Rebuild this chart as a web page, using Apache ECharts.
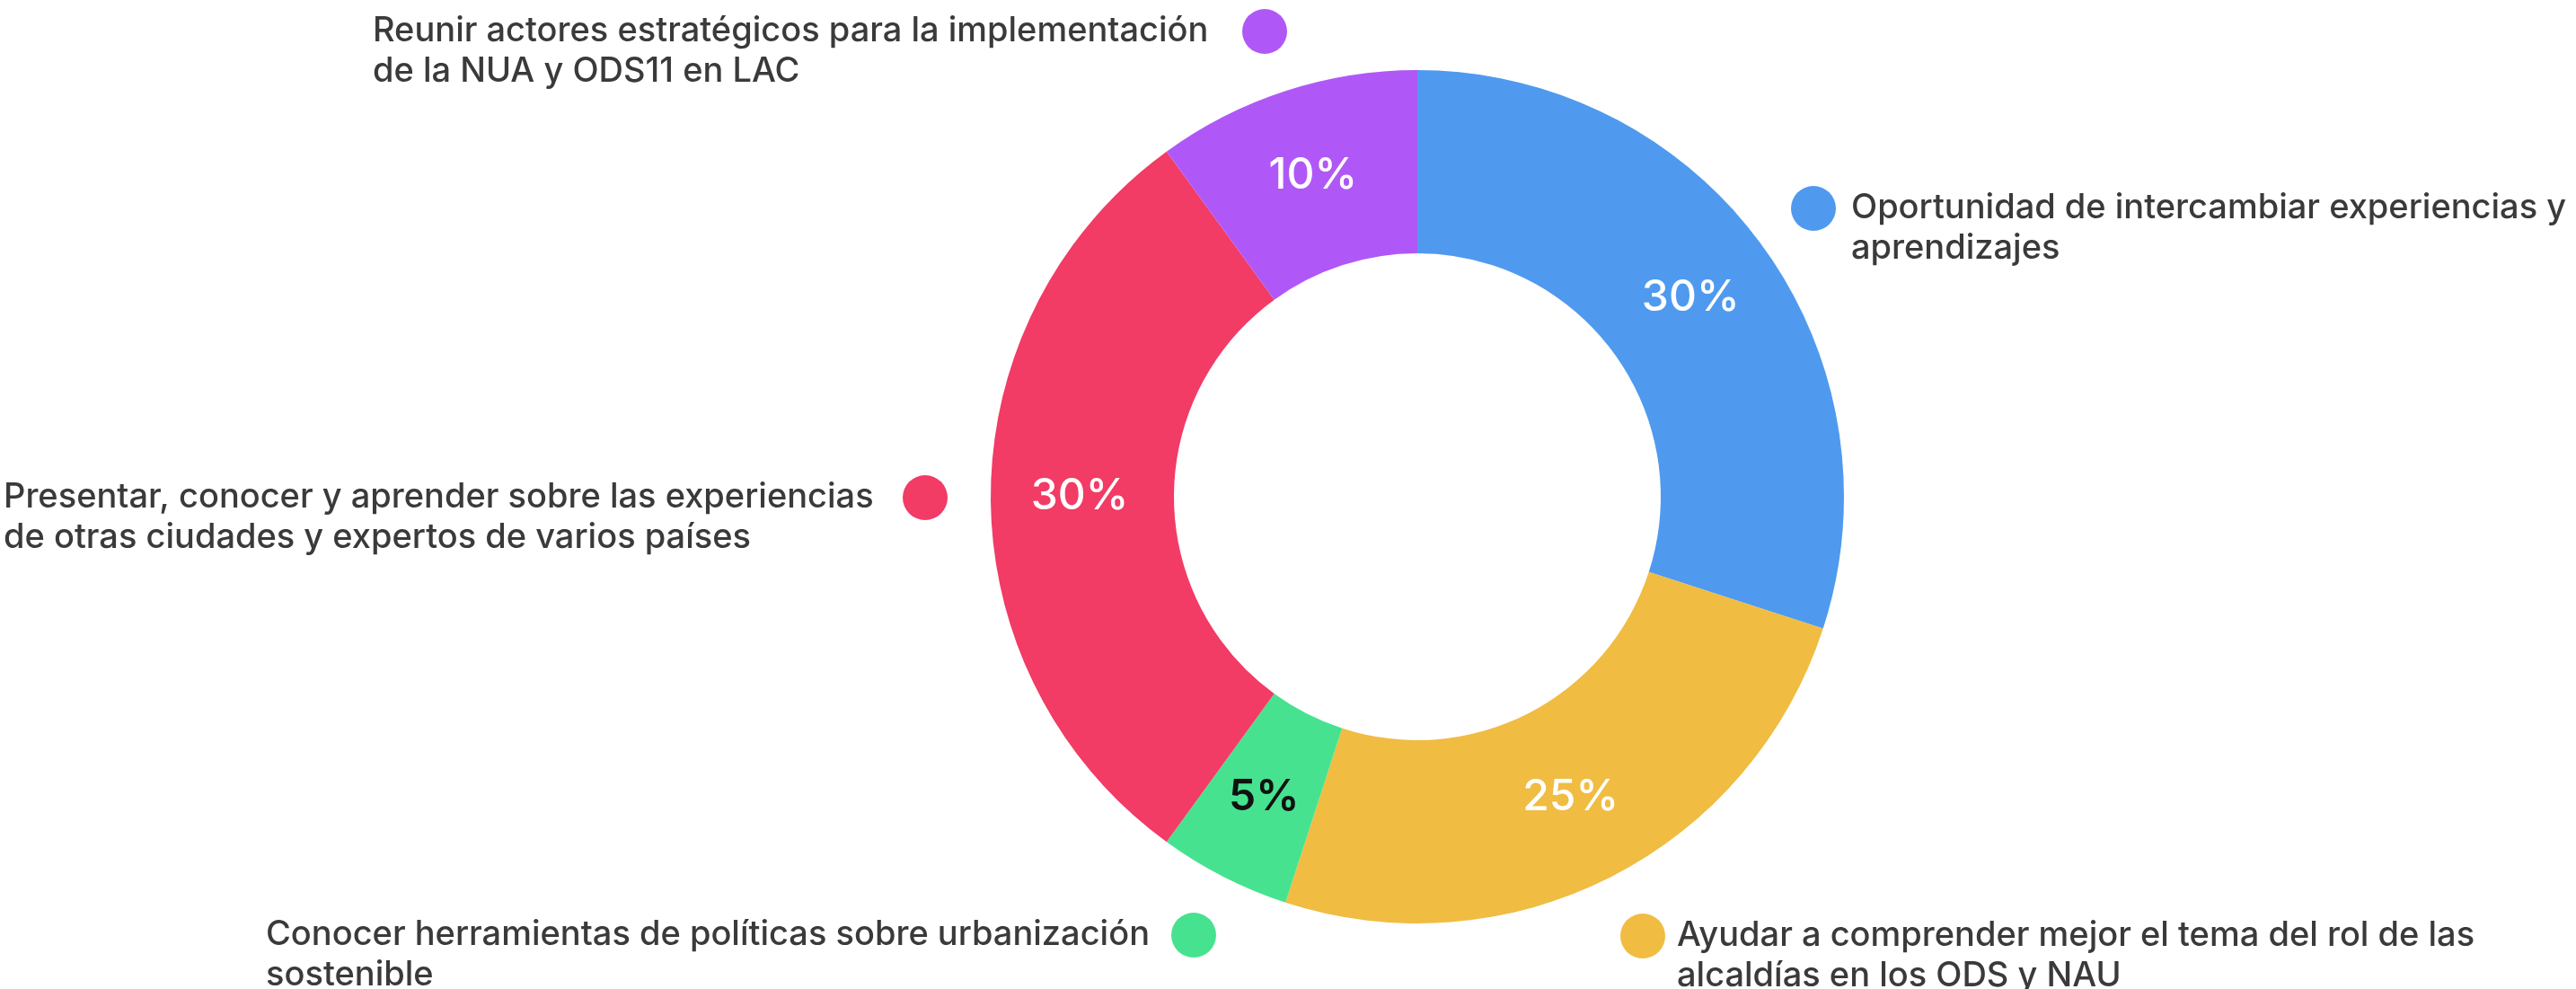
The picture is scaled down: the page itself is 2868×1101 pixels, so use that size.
<!DOCTYPE html>
<html>
<head>
<meta charset="utf-8">
<script src="https://cdn.jsdelivr.net/npm/echarts@6.0.0/dist/echarts.min.js"></script>
<style>
html,body{margin:0;padding:0;background:#ffffff;}
#chart{width:2868px;height:1101px;}
</style>
</head>
<body>
<div id="chart"></div>
<script>
// ---- data ----
const categories = [
  "Oportunidad de intercambiar experiencias y\naprendizajes",
  "Ayudar a comprender mejor el tema del rol de las\nalcaldías en los ODS y NAU",
  "Conocer herramientas de políticas sobre urbanización\nsostenible",
  "Presentar, conocer y aprender sobre las experiencias\nde otras ciudades y expertos de varios países",
  "Reunir actores estratégicos para la implementación\nde la NUA y ODS11 en LAC"
];
const values = [30, 25, 5, 30, 10];
const colors = ["#4F9AEF", "#F0BC42", "#47E290", "#F23B65", "#B058F7"];
const labelColors = ["#ffffff", "#ffffff", "#111111", "#ffffff", "#ffffff"];
const labelWeights = [500, 500, 600, 500, 500];

// ---- annotation layout (dot centre, text anchor) ----
const annLayout = [
  { dot: [2019, 232], textX: 2061 },
  { dot: [1829, 1042], textX: 1867 },
  { dot: [1329, 1041], textX: 296 },
  { dot: [1030, 554], textX: 4 },
  { dot: [1408, 35], textX: 415 }
];

const FONT = "Inter, 'Noto Sans', sans-serif";
const LH = 45;
const graphics = [];
categories.forEach((name, i) => {
  const L = annLayout[i];
  graphics.push({
    type: "circle",
    shape: { cx: L.dot[0], cy: L.dot[1], r: 25 },
    style: { fill: colors[i] },
    silent: true
  });
  graphics.push({
    type: "text",
    x: L.textX,
    y: L.dot[1] - LH / 2,
    style: {
      text: name,
      fill: "#3a3a3a",
      font: "500 38px " + FONT,
      lineHeight: LH,
      textAlign: "left",
      textVerticalAlign: "top"
    },
    silent: true
  });
});

const chart = echarts.init(document.getElementById("chart"));
chart.setOption({
  backgroundColor: "#ffffff",
  animation: false,
  graphic: graphics,
  series: [{
    type: "pie",
    center: [1578, 553],
    radius: [271, 475],
    startAngle: 90,
    clockwise: true,
    avoidLabelOverlap: false,
    label: {
      show: true,
      position: "inside",
      formatter: p => p.value + "%",
      fontFamily: FONT,
      fontSize: 48,
      fontWeight: 500
    },
    labelLine: { show: false },
    itemStyle: { borderWidth: 0 },
    emphasis: { disabled: true },
    data: categories.map((n, i) => ({
      name: n,
      value: values[i],
      itemStyle: { color: colors[i] },
      label: { color: labelColors[i], fontWeight: labelWeights[i] }
    }))
  }]
});
</script>
</body>
</html>
